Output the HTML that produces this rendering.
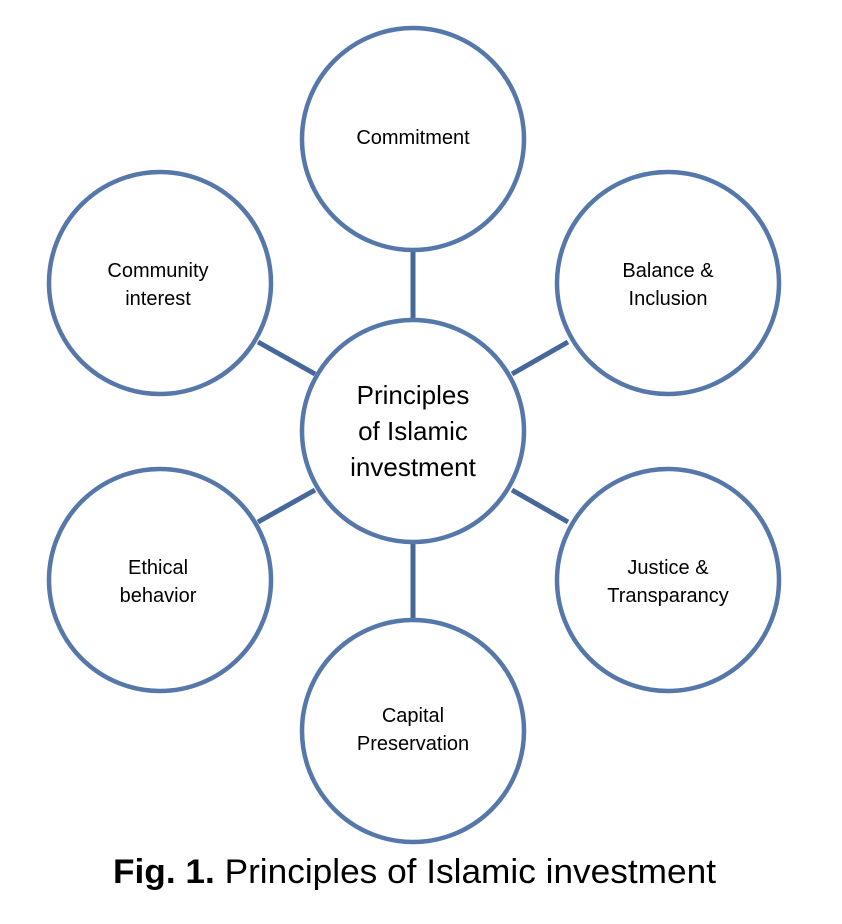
<!DOCTYPE html>
<html><head><meta charset="utf-8"><style>
html,body{margin:0;padding:0;background:#fff;}
svg{display:block;}
text{font-family:"Liberation Sans",sans-serif;fill:#000;}
</style></head><body>
<svg width="842" height="924" viewBox="0 0 842 924" xmlns="http://www.w3.org/2000/svg">
<g stroke="#46679a" stroke-width="5">
<line x1="413" y1="252" x2="413" y2="320"/>
<line x1="413" y1="543" x2="413" y2="620"/>
<line x1="258" y1="342" x2="315" y2="374"/>
<line x1="568" y1="342" x2="512" y2="374"/>
<line x1="258" y1="522" x2="315" y2="490"/>
<line x1="568" y1="522" x2="512" y2="490"/>
</g>
<g fill="#fff" stroke="#5577aa" stroke-width="4.5">
<circle cx="413" cy="139" r="111"/>
<circle cx="160" cy="283" r="111"/>
<circle cx="668" cy="283" r="111"/>
<circle cx="413" cy="431" r="111"/>
<circle cx="160" cy="580" r="111"/>
<circle cx="668" cy="580" r="111"/>
<circle cx="413" cy="731" r="111"/>
</g>
<g font-size="20" text-anchor="middle">
<text x="413" y="144">Commitment</text>
<text x="158" y="277">Community</text>
<text x="158" y="305">interest</text>
<text x="668" y="277">Balance &amp;</text>
<text x="668" y="305">Inclusion</text>
<text x="158" y="574">Ethical</text>
<text x="158" y="602">behavior</text>
<text x="668" y="574">Justice &amp;</text>
<text x="668" y="602">Transparancy</text>
<text x="413" y="722">Capital</text>
<text x="413" y="750">Preservation</text>
</g>
<g font-size="26" text-anchor="middle">
<text x="413" y="404">Principles</text>
<text x="413" y="440">of Islamic</text>
<text x="413" y="476">investment</text>
</g>
<text x="113" y="883" font-size="34" textLength="603" lengthAdjust="spacingAndGlyphs"><tspan font-weight="bold">Fig. 1.</tspan> Principles of Islamic investment</text>
</svg>
</body></html>
